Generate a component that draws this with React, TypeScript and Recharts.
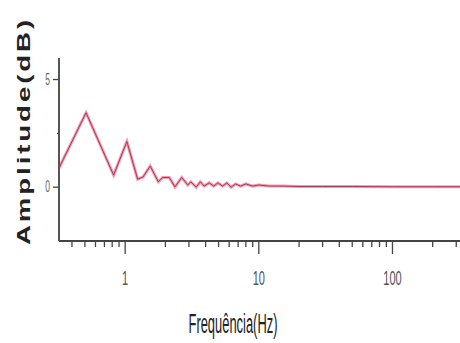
import { Line, LineChart, XAxis, YAxis } from "recharts";

// frequency (Hz) and amplitude (dB)
const freqs = [0.32, 0.51, 0.82, 1.03, 1.24, 1.36, 1.54, 1.77, 1.91, 2.14, 2.36, 2.65, 2.94, 3.1, 3.4, 3.65, 3.9, 4.25, 4.6, 4.95, 5.35, 5.77, 6.2, 6.7, 7.3, 8, 9, 10, 12, 15, 20, 30, 50, 100, 200, 320];
const amps = [0.89, 3.46, 0.56, 2.12, 0.37, 0.47, 0.98, 0.25, 0.45, 0.45, 0.01, 0.45, 0.1, 0.25, 0, 0.25, 0.05, 0.2, 0.05, 0.2, 0.05, 0.2, 0, 0.15, 0.05, 0.15, 0.05, 0.1, 0.05, 0.05, 0.03, 0.03, 0.03, 0.02, 0.02, 0.02];

const xTicks = [0.4, 0.5, 0.6, 0.7, 0.8, 0.9, 1, 2, 3, 4, 5, 6, 7, 8, 9, 10, 20, 30, 40, 50, 60, 70, 80, 90, 100, 200, 300];
const xLabels = [1, 10, 100];
const yTicks = [0, 2.5, 5];
const yLabels = [0, 5];

const rows = freqs.map((f, i) => ({ f, a: amps[i] }));

function XTick(props: any) {
  const { x, y, payload } = props;
  const major = xLabels.includes(payload.value);
  return (
    <g>
      <line x1={x} x2={x} y1={y - 1} y2={y + (major ? 13 : 6)} stroke="#444" strokeWidth={1.3} />
      {major && (
        <g transform={`translate(${x} ${y + 44}) scale(0.55 1)`}>
          <text x={0} y={0} textAnchor="middle" fontSize={20} fill="#555" fontFamily="Liberation Sans, sans-serif">
            {payload.value}
          </text>
        </g>
      )}
    </g>
  );
}

function YTick(props: any) {
  const { x, y, payload } = props;
  const labelled = yLabels.includes(payload.value);
  return (
    <g>
      <line x1={x - (labelled ? 6 : 2)} x2={x} y1={y} y2={y} stroke="#444" strokeWidth={1.3} />
      {labelled && (
        <g transform={`translate(${x - 9} ${y + 5}) scale(0.5 1)`}>
          <text x={0} y={0} textAnchor="end" fontSize={17} fill="#666" fontFamily="Liberation Sans, sans-serif">
            {payload.value}
          </text>
        </g>
      )}
    </g>
  );
}

export default function App() {
  return (
    <div style={{ position: "absolute", left: 0, top: 0, width: 460, height: 343, background: "#fff" }}>
      <LineChart width={460} height={343} data={rows} margin={{ top: 58, right: 0, bottom: 72, left: 29 }}>
        <XAxis
          dataKey="f"
          type="number"
          scale="log"
          domain={[0.32, 320]}
          allowDataOverflow
          ticks={xTicks}
          interval={0}
          tick={<XTick />}
          tickLine={false}
          tickSize={0}
          tickMargin={0}
          height={30}
          axisLine={{ stroke: "#444", strokeWidth: 2 }}
        />
        <YAxis
          type="number"
          domain={[-2.5, 6]}
          ticks={yTicks}
          interval={0}
          tick={<YTick />}
          tickLine={false}
          tickSize={0}
          tickMargin={0}
          width={30}
          axisLine={{ stroke: "#555", strokeWidth: 2 }}
        />
        <Line dataKey="a" type="linear" stroke="#f07896" strokeWidth={3} strokeOpacity={0.75} dot={false} isAnimationActive={false} />
        <Line dataKey="a" type="linear" stroke="#a83a55" strokeWidth={1} dot={false} isAnimationActive={false} />
      </LineChart>
      <svg width={460} height={343} style={{ position: "absolute", left: 0, top: 0, pointerEvents: "none" }}>
        <text
          transform="translate(30 131) rotate(-90)"
          textAnchor="middle"
          fontSize={19}
          fontWeight="bold"
          fill="#222"
          letterSpacing={2}
          fontFamily="Liberation Sans, Arial, sans-serif"
          textLength={228}
          lengthAdjust="spacingAndGlyphs"
        >
          Amplitude(dB)
        </text>
        <text
          x={233}
          y={333}
          textAnchor="middle"
          fontSize={27}
          fill="#222"
          fontFamily="Liberation Sans, sans-serif"
          textLength={89}
          lengthAdjust="spacingAndGlyphs"
        >
          Frequência(Hz)
        </text>
      </svg>
    </div>
  );
}
